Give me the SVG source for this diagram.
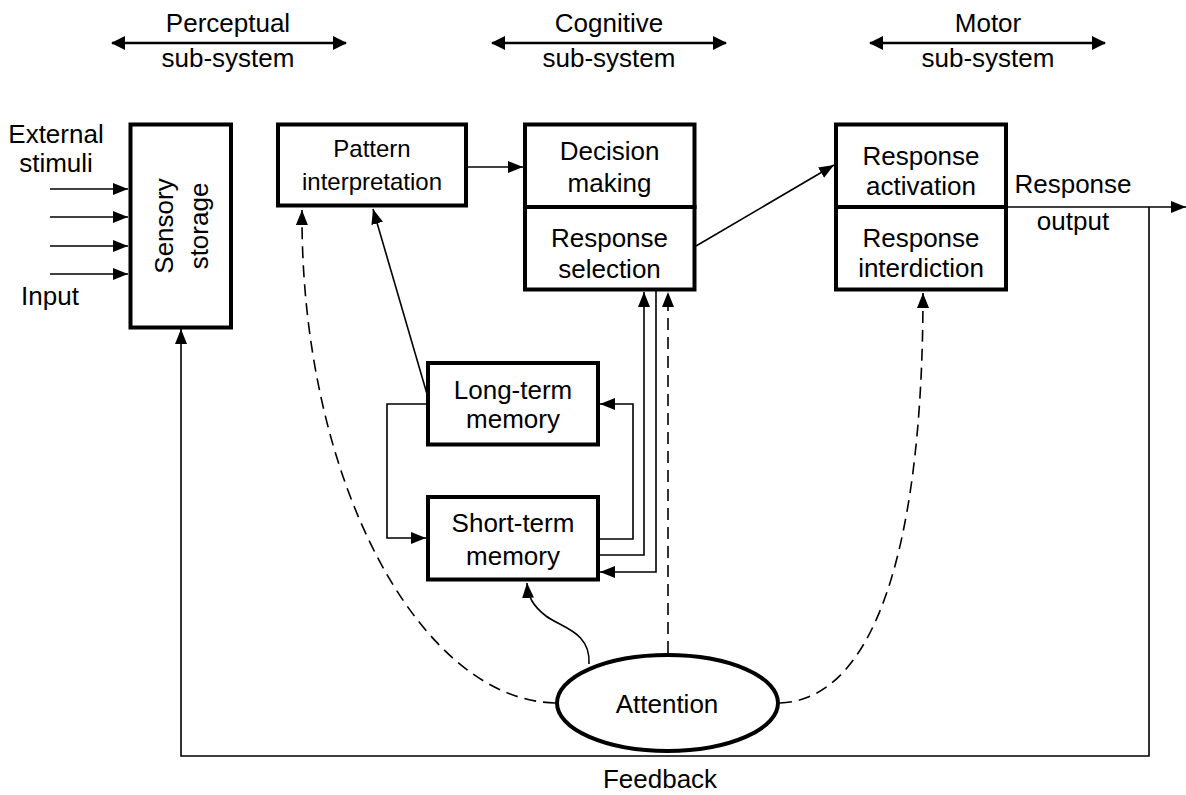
<svg xmlns="http://www.w3.org/2000/svg" width="1186" height="795" viewBox="0 0 1186 795">
<style>
text{font-family:"Liberation Sans",Arial,sans-serif;font-size:26px;fill:#000;text-anchor:middle}
.box{fill:#fff;stroke:#000;stroke-width:4}
.ln{fill:none;stroke:#000;stroke-width:1.6}
.dash{fill:none;stroke:#000;stroke-width:1.6;stroke-dasharray:12,7}
.hdr{fill:none;stroke:#000;stroke-width:2.6}
.sm{font-size:24px}
</style>
<defs>
<marker id="ah" markerUnits="userSpaceOnUse" markerWidth="15" markerHeight="12" refX="15" refY="6" orient="auto">
<path d="M0,0 L15,6 L0,12 z" fill="#000"/>
</marker>
<marker id="hh" markerUnits="userSpaceOnUse" markerWidth="14" markerHeight="14" refX="13" refY="7" orient="auto-start-reverse">
<path d="M0,0 L14,7 L0,14 z" fill="#000"/>
</marker>
</defs>
<rect width="1186" height="795" fill="#fff"/>

<g id="headers">
<text x="228" y="32">Perceptual</text>
<text x="228" y="67">sub-system</text>
<text x="609" y="32">Cognitive</text>
<text x="609" y="67">sub-system</text>
<text x="988" y="32">Motor</text>
<text x="988" y="67">sub-system</text>
<line class="hdr" x1="112" y1="43" x2="346" y2="43" marker-start="url(#hh)" marker-end="url(#hh)"/>
<line class="hdr" x1="492" y1="43" x2="726" y2="43" marker-start="url(#hh)" marker-end="url(#hh)"/>
<line class="hdr" x1="870" y1="43" x2="1105" y2="43" marker-start="url(#hh)" marker-end="url(#hh)"/>
</g>

<g id="connectors">
<line class="ln" x1="50" y1="189" x2="128" y2="189" marker-end="url(#ah)"/>
<line class="ln" x1="50" y1="217" x2="128" y2="217" marker-end="url(#ah)"/>
<line class="ln" x1="50" y1="246" x2="128" y2="246" marker-end="url(#ah)"/>
<line class="ln" x1="50" y1="274" x2="128" y2="274" marker-end="url(#ah)"/>
<line class="ln" x1="466" y1="167" x2="523" y2="167" marker-end="url(#ah)"/>
<line class="ln" x1="696" y1="246" x2="834" y2="165" marker-end="url(#ah)"/>
<line class="ln" x1="1006" y1="207" x2="1186" y2="207" marker-end="url(#ah)"/>
<polyline class="ln" points="1149,207 1149,756 181,756 181,329" marker-end="url(#ah)"/>
<line class="ln" x1="427" y1="394" x2="373" y2="209" marker-end="url(#ah)"/>
<polyline class="ln" points="428,404 387,404 387,538 426,538" marker-end="url(#ah)"/>
<polyline class="ln" points="600,539 633,539 633,404 600,404" marker-end="url(#ah)"/>
<polyline class="ln" points="600,555 644,555 644,292" marker-end="url(#ah)"/>
<polyline class="ln" points="656,291 656,572 600,572" marker-end="url(#ah)"/>
<line class="dash" x1="668" y1="653" x2="668" y2="292" marker-end="url(#ah)"/>
<path class="dash" d="M555,703 C420,700 300,480 302,210" marker-end="url(#ah)"/>
<path class="dash" d="M780,703 C870,700 923,560 923,293" marker-end="url(#ah)"/>
<path class="ln" d="M589,664 C591,632 562,628 546,616 C533,606 528,597 527,583" marker-end="url(#ah)"/>
</g>

<g id="labels">
<text x="56" y="143">External</text>
<text x="56" y="172">stimuli</text>
<text x="50" y="305">Input</text>
<text x="1073" y="193">Response</text>
<text x="1073" y="230">output</text>
<text x="660" y="788">Feedback</text>
</g>

<g id="sensory">
<rect class="box" x="130.5" y="124.5" width="100.5" height="203"/>
<text transform="translate(173,226) rotate(-90)">Sensory</text>
<text transform="translate(208,226) rotate(-90)">storage</text>
</g>

<g id="pattern">
<rect class="box" x="278" y="124.5" width="188" height="81"/>
<text class="sm" x="372" y="157">Pattern</text>
<text class="sm" x="372" y="190">interpretation</text>
</g>

<g id="decision">
<rect class="box" x="525" y="124.5" width="169.5" height="82.5"/>
<text x="609.5" y="160">Decision</text>
<text x="609.5" y="192">making</text>
</g>

<g id="selection">
<rect class="box" x="525" y="207" width="169.5" height="82.5"/>
<text x="609.5" y="247">Response</text>
<text x="609.5" y="278">selection</text>
</g>

<g id="activation">
<rect class="box" x="836" y="124.5" width="170" height="82.5"/>
<text x="921" y="165">Response</text>
<text x="921" y="195">activation</text>
</g>

<g id="interdiction">
<rect class="box" x="836" y="207" width="170" height="82.5"/>
<text x="921" y="247">Response</text>
<text x="921" y="277">interdiction</text>
</g>

<g id="ltm">
<rect class="box" x="428" y="363" width="170" height="81.5"/>
<text x="513" y="399">Long-term</text>
<text x="513" y="428">memory</text>
</g>

<g id="stm">
<rect class="box" x="428" y="497" width="170" height="82.5"/>
<text x="513" y="532">Short-term</text>
<text x="513" y="565">memory</text>
</g>

<g id="attention">
<ellipse cx="667.5" cy="703" rx="110.5" ry="48" fill="#fff" stroke="#000" stroke-width="4"/>
<text x="667" y="713">Attention</text>
</g>
</svg>
